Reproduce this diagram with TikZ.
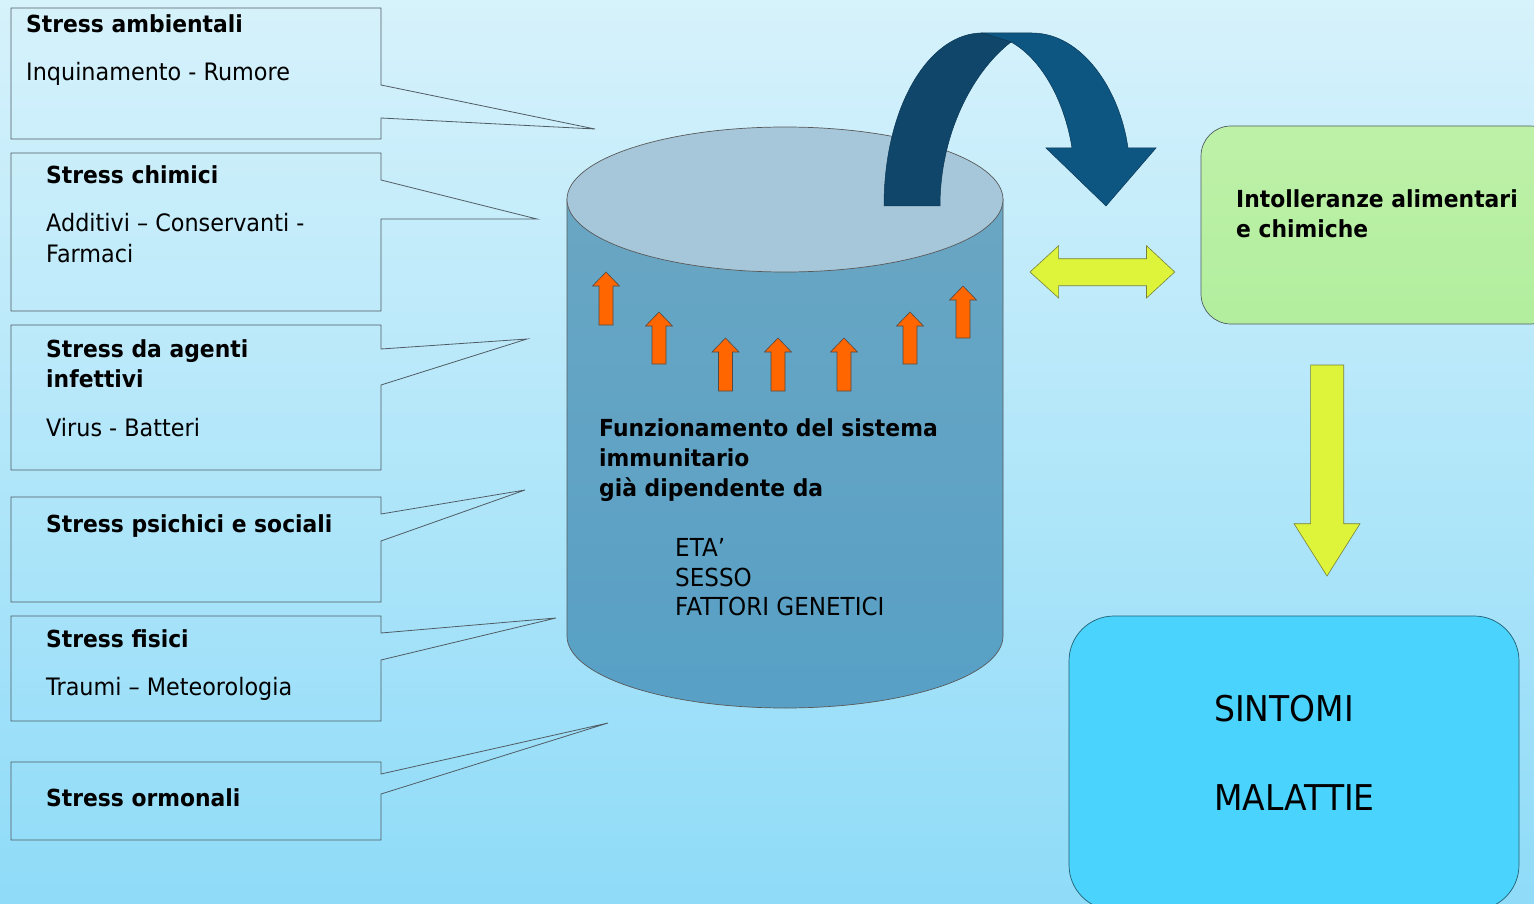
\documentclass[tikz,border=0pt]{standalone}
\usepackage{fontspec}
\setmainfont{DejaVu Sans}[FakeStretch=0.93]
\definecolor{bgtop}{RGB}{214,242,251}
\definecolor{bgbot}{RGB}{143,219,248}
\definecolor{linegray}{RGB}{80,92,100}
\definecolor{cyltop}{RGB}{166,199,218}
\definecolor{cylbodytop}{RGB}{105,166,195}
\definecolor{cylbodybot}{RGB}{88,160,198}
\definecolor{arrorange}{RGB}{255,102,0}
\definecolor{arryellow}{RGB}{221,244,58}
\definecolor{yelline}{RGB}{120,130,60}
\definecolor{curvedark}{RGB}{15,70,106}
\definecolor{curvelight}{RGB}{13,86,129}
\definecolor{greenboxtop}{RGB}{190,241,168}
\definecolor{greenboxbot}{RGB}{178,238,158}
\definecolor{bluebox}{RGB}{74,212,253}
\newcommand{\orangeup}[3]{%
  \draw[orangearrow] (#1,#2) -- ({#1+13.5},{#2+14}) -- ({#1+7},{#2+14}) -- ({#1+7},#3)
    -- ({#1-7},#3) -- ({#1-7},{#2+14}) -- ({#1-13.5},{#2+14}) -- cycle;}
\begin{document}
\begin{tikzpicture}[x=1pt,y=-1pt,
  callout/.style={draw=linegray, line width=0.8pt},
  btxt/.style={anchor=base west, font=\fontsize{23.5}{28}\selectfont\bfseries, inner sep=0pt},
  rtxt/.style={anchor=base west, font=\fontsize{24}{28}\selectfont, inner sep=0pt},
  ctxt/.style={anchor=base west, font=\fontsize{24.8}{28}\selectfont, inner sep=0pt},
  bigtxt/.style={anchor=base west, font=\fontsize{35.5}{40}\selectfont, inner sep=0pt},
  orangearrow/.style={fill=arrorange, draw=black!70, line width=0.6pt},
  yelarrow/.style={fill=arryellow, draw=yelline, line width=0.6pt},
  cylline/.style={draw=black!65, line width=0.7pt}]
\useasboundingbox (0,0) rectangle (1534,904);
\fill[top color=bgtop, bottom color=bgbot] (0,0) rectangle (1534,904);

% ---- callout boxes ----
\draw[callout] (11,8) -- (381,8) -- (381,85) -- (595,129) -- (381,118) -- (381,139) -- (11,139) -- cycle;
\node[btxt] (sa) at (26,33) {Stress ambientali};
\node[rtxt] (sa2) at (26,81) {Inquinamento - Rumore};

\draw[callout] (11,153) -- (381,153) -- (381,180) -- (537,219) -- (381,219) -- (381,311) -- (11,311) -- cycle;
\node[btxt] (sc) at (46,184) {Stress chimici};
\node[rtxt] (sc2) at (46,232) {Additivi – Conservanti -};
\node[rtxt] (sc3) at (46,262) {Farmaci};

\draw[callout] (11,325) -- (381,325) -- (381,349) -- (527,339) -- (381,385) -- (381,470) -- (11,470) -- cycle;
\node[btxt] (si) at (46,357) {Stress da agenti};
\node[btxt] (si2) at (46,387) {infettivi};
\node[rtxt] (si3) at (46,436) {Virus - Batteri};

\draw[callout] (11,497) -- (381,497) -- (381,514) -- (525,490) -- (381,541) -- (381,602) -- (11,602) -- cycle;
\node[btxt] (sp) at (46,532) {Stress psichici e sociali};

\draw[callout] (11,616) -- (381,616) -- (381,633) -- (556,618) -- (381,660) -- (381,721) -- (11,721) -- cycle;
\node[btxt] (sf) at (46,647) {Stress fisici};
\node[rtxt] (sf2) at (46,695) {Traumi – Meteorologia};

\draw[callout] (11,762) -- (381,762) -- (381,774) -- (608,723) -- (381,794) -- (381,840) -- (11,840) -- cycle;
\node[btxt] (so) at (46,806) {Stress ormonali};

% ---- cylinder ----
\path[cylline, top color=cylbodytop, bottom color=cylbodybot]
  (567,199) -- (567,636) .. controls (567,675.8) and (664.6,708) .. (785,708)
  .. controls (905.4,708) and (1003,675.8) .. (1003,636) -- (1003,199) -- cycle;
\draw[cylline, fill=cyltop] (785,199.5) ellipse [x radius=218, y radius=72.5];

\orangeup{606}{272}{325}
\orangeup{659}{312}{364}
\orangeup{725.5}{338}{391}
\orangeup{778}{338}{391}
\orangeup{844}{338}{391}
\orangeup{910}{312}{364}
\orangeup{963}{286}{338}

\node[btxt] (f1) at (599,436) {Funzionamento del sistema};
\node[btxt] (f2) at (599,466) {immunitario};
\node[btxt] (f3) at (599,496) {già dipendente da};
\node[ctxt] (e1) at (675,556) {ETA’};
\node[ctxt] (e2) at (675,586) {SESSO};
\node[ctxt] (e3) at (675,615) {FATTORI GENETICI};

% ---- curved arrow ----
\draw[fill=curvelight, draw=curvedark!80!black, line width=0.5pt]
  (982,33) -- (1032,33) .. controls (1082,33) and (1120,90) .. (1128,148)
  -- (1156,148) -- (1106,206) -- (1046,148) -- (1072,148)
  .. controls (1064,98) and (1040,58) .. (1011,42) -- cycle;
\draw[fill=curvedark, draw=curvedark!80!black, line width=0.5pt]
  (884,206) .. controls (884,105) and (930,33) .. (982,33) -- (1011,42)
  .. controls (972,72) and (940,135) .. (940,206) -- cycle;

% ---- yellow arrows ----
\draw[yelarrow] (1030,272) -- (1058.6,245.7) -- (1058.6,258.7) -- (1146.5,258.7) -- (1146.5,245.7)
  -- (1174.7,272) -- (1146.5,298) -- (1146.5,285.7) -- (1058.6,285.7) -- (1058.6,298) -- cycle;
\draw[yelarrow] (1310.6,365) -- (1343.7,365) -- (1343.7,523.7) -- (1360,523.7) -- (1327,576)
  -- (1294,523.7) -- (1310.6,523.7) -- cycle;

% ---- right boxes ----
\draw[draw=linegray, line width=0.7pt, rounded corners=30pt, top color=greenboxtop, bottom color=greenboxbot]
  (1201,126) rectangle (1560,324);
\node[btxt] (int1) at (1236,208) {Intolleranze alimentari};
\node[btxt] (int2) at (1236,237) {e chimiche};

\draw[draw=black!55!bluebox, line width=0.7pt, rounded corners=45pt, fill=bluebox]
  (1069,616) rectangle (1519,910);
\node[bigtxt] (sint) at (1214,721) {SINTOMI};
\node[bigtxt] (mal) at (1214,810) {MALATTIE};
\end{tikzpicture}
\end{document}
